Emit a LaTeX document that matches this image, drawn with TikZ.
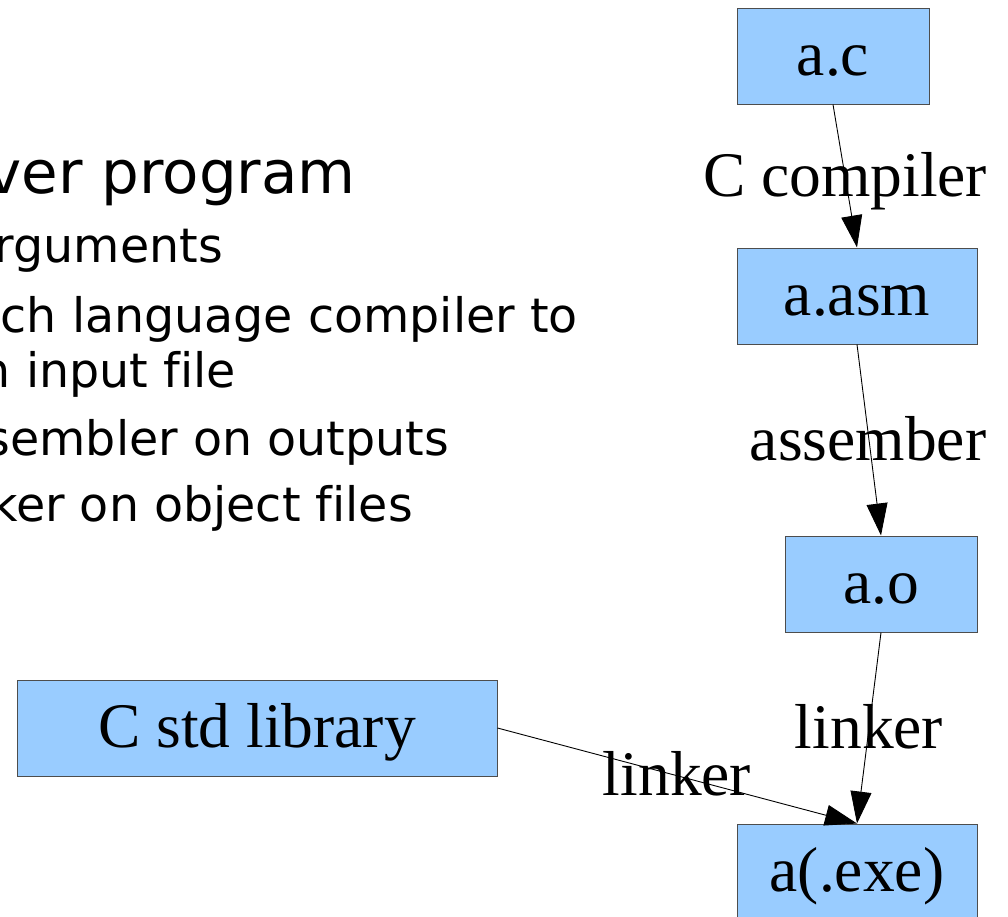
\documentclass[tikz,border=0pt]{standalone}
\usepackage{fontspec}
\setmainfont{Liberation Serif}
\newfontfamily\slidesans[Ligatures=NoCommon]{DejaVu Sans}
\usetikzlibrary{arrows.meta}

\definecolor{boxfill}{HTML}{99CCFF}
\definecolor{boxline}{HTML}{4D4D4D}

\newcommand\fSerif{\fontsize{63.5}{76}\selectfont}
\newcommand\fHead{\slidesans\fontsize{59.5}{71}\selectfont}
\newcommand\fItem{\slidesans\fontsize{47.5}{57}\selectfont}

\tikzset{
  filebox/.style={draw=boxline, fill=boxfill, line width=1pt, inner sep=0pt,
    minimum height=96pt, text height=50pt, text depth=11pt, font=\fSerif},
  edgelabel/.style={anchor=base, inner sep=0pt, font=\fSerif},
  flow/.style={-{Triangle[length=32pt,width=21pt]}, line width=0.9pt, black},
  headline/.style={anchor=base east, inner sep=0pt, font=\fHead},
  itemline/.style={anchor=base east, inner sep=0pt, font=\fItem}
}

\begin{document}
\begin{tikzpicture}[x=1pt,y=-1pt]
\useasboundingbox (0,0) rectangle (1008,916);
\clip (0,0) rectangle (1008,916);

% slide text on the left
\node[headline] (head) at (356,193) {ver program};
\node[itemline] (it1) at (223,262) {rguments};
\node[itemline] (it2a) at (578,332) {ch language compiler to};
\node[itemline] (it2b) at (236,387) {n input file};
\node[itemline] (it3) at (449,455) {sembler on outputs};
\node[itemline] (it4) at (413,521) {ker on object files};

% build pipeline
\node[filebox, minimum width=192pt] (src) at (833,56) {a.c};
\node[filebox, minimum width=240pt] (asm) at (857,296) {a.asm};
\node[filebox, minimum width=192pt] (obj) at (881,584) {a.o};
\node[filebox, minimum width=240pt] (exe) at (857,872) {a(.exe)};
\node[filebox, minimum width=480pt] (lib) at (257,728) {C std library};

% tool names on the arrows
\node[edgelabel] (l1) at (845,196) {C compiler};
\node[edgelabel] (l2) at (868,460) {assember};
\node[edgelabel] (l3) at (869,748) {linker};
\node[edgelabel] (l4) at (677,795) {linker};

\draw[flow] (src.south) -- (asm.north);
\draw[flow] (asm.south) -- (obj.north);
\draw[flow] (obj.south) -- (exe.north);
\draw[flow] (lib.east) -- (exe.north);
\end{tikzpicture}
\end{document}
